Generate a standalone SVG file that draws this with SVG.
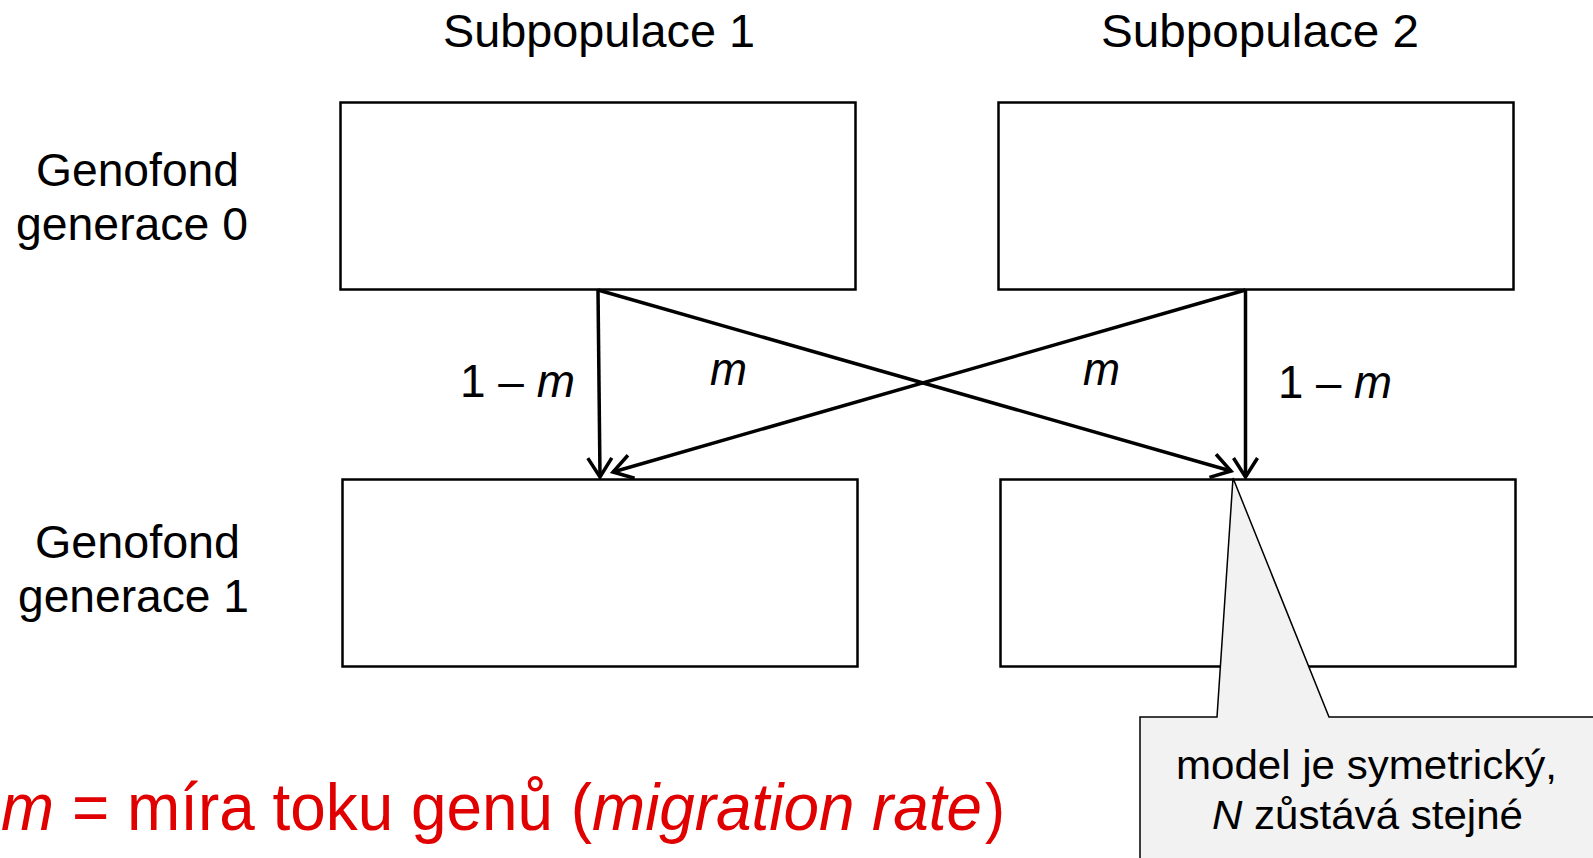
<svg xmlns="http://www.w3.org/2000/svg" width="1593" height="858" viewBox="0 0 1593 858">
<style>
text{font-family:"Liberation Sans",Arial,sans-serif;fill:#000}
.lbl{font-size:47px}
.row{font-size:47px}
.el{font-size:46px}
.co{font-size:41px}
.box{fill:#fff;stroke:#000;stroke-width:2.5}
.arr{stroke:#000;stroke-width:3.5;fill:none;marker-end:url(#ah)}
.it{font-style:italic}
.red{fill:#e00000;font-size:66px}
</style>
<defs>
<marker id="ah" viewBox="0 0 26 30" refX="22" refY="15" markerWidth="26" markerHeight="30" markerUnits="userSpaceOnUse" orient="auto">
<path d="M3,3 L22,15 L3,27" fill="none" stroke="#000" stroke-width="3.5"/>
</marker>
</defs>
<rect width="1593" height="858" fill="#fff"/>
<g id="header1"><text class="lbl" x="443" y="47" textLength="312" lengthAdjust="spacingAndGlyphs">Subpopulace 1</text></g>
<g id="header2"><text class="lbl" x="1101" y="47" textLength="318" lengthAdjust="spacingAndGlyphs">Subpopulace 2</text></g>
<g id="row0"><text class="row" x="36" y="186" textLength="203" lengthAdjust="spacingAndGlyphs">Genofond</text><text class="row" x="16" y="240" textLength="232" lengthAdjust="spacingAndGlyphs">generace 0</text></g>
<g id="row1"><text class="row" x="35" y="558" textLength="205" lengthAdjust="spacingAndGlyphs">Genofond</text><text class="row" x="18" y="612" textLength="231" lengthAdjust="spacingAndGlyphs">generace 1</text></g>
<g id="s1g0"><rect class="box" x="340.5" y="102.5" width="515" height="187"/></g>
<g id="s2g0"><rect class="box" x="998.5" y="102.5" width="515" height="187"/></g>
<g id="s1g1"><rect class="box" x="342.5" y="479.5" width="515" height="187"/></g>
<g id="s2g1"><rect class="box" x="1000.5" y="479.5" width="515" height="187"/></g>
<g id="connectors">
<line class="arr" x1="598" y1="290" x2="600" y2="477"/>
<line class="arr" x1="598" y1="290" x2="1231" y2="471"/>
<line class="arr" x1="1245.5" y1="290" x2="1245.5" y2="477"/>
<line class="arr" x1="1245.5" y1="290" x2="613" y2="472"/>
</g>
<g id="edge-labels">
<text class="el" x="460" y="397" textLength="115" lengthAdjust="spacingAndGlyphs">1 – <tspan class="it">m</tspan></text>
<text class="el it" x="710" y="385" textLength="37" lengthAdjust="spacingAndGlyphs">m</text>
<text class="el it" x="1083" y="385" textLength="37" lengthAdjust="spacingAndGlyphs">m</text>
<text class="el" x="1278" y="398" textLength="114" lengthAdjust="spacingAndGlyphs">1 – <tspan class="it">m</tspan></text>
</g>
<g id="callout">
<path d="M1140,860 L1140,717 L1217,717 L1233,478 L1329,717 L1600,717 L1600,860 Z" fill="#f2f2f2" stroke="#000" stroke-width="1.5"/>
<text class="co" x="1176" y="779" textLength="381" lengthAdjust="spacingAndGlyphs">model je symetrický,</text>
<text class="co" x="1212" y="829" textLength="311" lengthAdjust="spacingAndGlyphs"><tspan class="it">N</tspan> zůstává stejné</text>
</g>
<g id="legend">
<text class="red it" x="1" y="830" textLength="53" lengthAdjust="spacingAndGlyphs">m</text>
<text class="red" x="72" y="830" textLength="520" lengthAdjust="spacingAndGlyphs">= míra toku genů (</text>
<text class="red it" x="592" y="830" textLength="390" lengthAdjust="spacingAndGlyphs">migration rate</text>
<text class="red" x="985" y="830" textLength="20" lengthAdjust="spacingAndGlyphs">)</text>
</g>
</svg>
